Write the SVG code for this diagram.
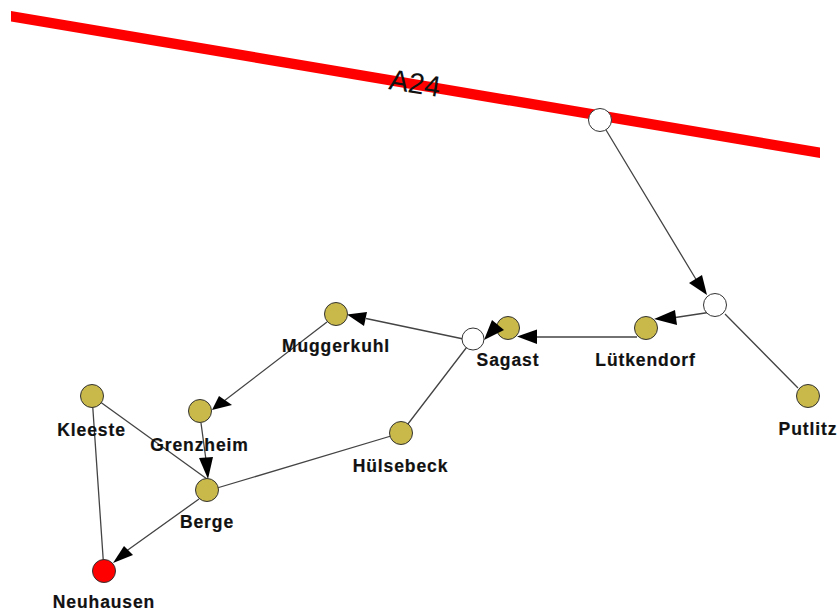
<svg xmlns="http://www.w3.org/2000/svg" width="839" height="611" viewBox="0 0 839 611">
<defs><style>
.n{stroke:#333;stroke-width:1}
.o{fill:#c9b84a}
.w{fill:#fff}
.l{font:bold 17.5px "Liberation Sans",Arial,sans-serif;fill:#111;stroke:#111;stroke-width:.2;text-anchor:middle;letter-spacing:.9px}
.e{stroke:#444;stroke-width:1.3;fill:none}
.a{fill:#000}
</style></defs>
<rect width="839" height="611" fill="#fff"/>
<g id="road"><polygon fill="#f00" points="11,11 820,147.500 820,158 11,21.500"/><text transform="translate(388 89) rotate(9)" font-family="'Liberation Sans',Arial,sans-serif" font-size="29" fill="#111">A24</text></g>
<g id="n-sagast"><circle class="n o" cx="508" cy="328" r="11.5"/><text class="l" x="508" y="366">Sagast</text></g>
<g id="connectors">
<path class="e" d="M600 120L697 281M725 314L798 388M715 311.500L672 318M637 337H530M473 341L366 318.500M327 322L224 401M201 423L206 460M473 339L401 433M401 433L207 491M92 396L207 479M92 396L104 571M199 499L125 552"/>
<polygon class="a" points="707,295 689,283 702,275"/>
<polygon class="a" points="654,319 675,310 677,325"/>
<polygon class="a" points="517,336.500 537,329.500 537,344"/>
<polygon class="a" points="484,340 492,320 504,330"/>
<polygon class="a" points="347,314.500 367,312 364,326"/>
<polygon class="a" points="212,410 219,396 232,405"/>
<polygon class="a" points="208,479 199,458 213,457"/>
<polygon class="a" points="113,563 124,546 133,555"/>
</g>
<g id="n-junction-a24"><circle class="n w" cx="600" cy="120" r="11.5"/></g>
<g id="n-junction-putlitz"><circle class="n w" cx="715" cy="305" r="11.5"/></g>
<g id="n-junction-sagast"><circle class="n w" cx="473" cy="339" r="11"/></g>
<g id="n-lutkendorf"><circle class="n o" cx="646" cy="328" r="11.5"/><text class="l" x="645.500" y="366">Lütkendorf</text></g>
<g id="n-putlitz"><circle class="n o" cx="808" cy="396" r="11.5"/><text class="l" x="808" y="435">Putlitz</text></g>
<g id="n-muggerkuhl"><circle class="n o" cx="336" cy="314" r="11.5"/><text class="l" x="336" y="352">Muggerkuhl</text></g>
<g id="n-grenzheim"><circle class="n o" cx="200" cy="411" r="11.5"/><text class="l" x="199.500" y="451">Grenzheim</text></g>
<g id="n-hulsebeck"><circle class="n o" cx="401" cy="433" r="11.5"/><text class="l" x="400.500" y="472">Hülsebeck</text></g>
<g id="n-kleeste"><circle class="n o" cx="92" cy="396" r="11.5"/><text class="l" x="91.500" y="435.500">Kleeste</text></g>
<g id="n-berge"><circle class="n o" cx="207" cy="490" r="11.5"/><text class="l" x="207" y="527.500">Berge</text></g>
<g id="n-neuhausen"><circle class="n" fill="#f00" cx="104" cy="571" r="11.5"/><text class="l" x="104" y="608">Neuhausen</text></g>
</svg>
